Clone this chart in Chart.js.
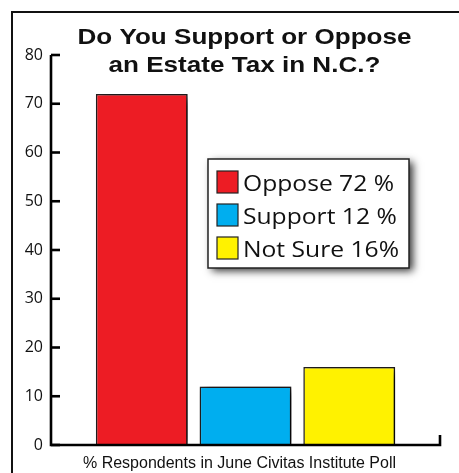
<!DOCTYPE html>
<html><head><meta charset="utf-8">
<script src="https://cdn.jsdelivr.net/npm/chart.js@4/dist/chart.umd.min.js"></script>
<style>
html,body{margin:0;padding:0;background:#fff;overflow:hidden;}
#wrap{position:relative;width:459px;height:473px;overflow:hidden;}
#frame{position:absolute;left:11px;top:11px;width:600px;height:600px;border-top:2.5px solid #111;border-left:2.5px solid #111;pointer-events:none;}
canvas{position:absolute;left:0;top:0;}
</style></head><body>
<div id="wrap"><canvas id="c" width="459" height="473"></canvas><div id="frame"></div></div>
<script>
const titleLines = ['Do You Support or Oppose', 'an Estate Tax in N.C.?'];
const categories = ['% Respondents in June Civitas Institute Poll'];
const seriesNames = ['Oppose 72 %', 'Support 12 %', 'Not Sure 16%'];
const opposeValues = [72];
const supportValues = [12];
const notSureValues = [16];
const seriesColors = ['#ED1C24', '#00AEEF', '#FFF200'];
const yTicks = [0, 10, 20, 30, 40, 50, 60, 70, 80];

const seriesValues = [opposeValues, supportValues, notSureValues];

const decor = {
  id: 'decor',
  beforeDatasetDraw(chart) {
    const ctx = chart.ctx;
    ctx.save();
    ctx.shadowColor = 'rgba(0,0,0,0.9)';
    ctx.shadowBlur = 9;
    ctx.shadowOffsetX = 5;
    ctx.shadowOffsetY = 2;
  },
  afterDatasetDraw(chart) { chart.ctx.restore(); },
  afterDatasetsDraw(chart) {
    const ctx = chart.ctx, ca = chart.chartArea;
    const y = chart.scales.y;
    const y0 = y.getPixelForValue(yTicks[0]);
    const yTop = y.getPixelForValue(yTicks[yTicks.length - 1]);
    ctx.save();
    ctx.strokeStyle = '#000';
    ctx.lineWidth = 2.6;
    ctx.lineJoin = 'miter';
    ctx.beginPath();
    ctx.moveTo(ca.left, yTop);
    ctx.lineTo(ca.left, y0);
    ctx.lineTo(ca.right, y0);
    ctx.lineTo(ca.right, y0 - 10);
    ctx.stroke();
    yTicks.forEach(v => {
      const py = y.getPixelForValue(v);
      ctx.beginPath();
      ctx.moveTo(ca.left, py);
      ctx.lineTo(ca.left + 9, py);
      ctx.stroke();
    });
    ctx.restore();
  },
  afterDraw(chart) {
    const ctx = chart.ctx, ca = chart.chartArea;
    ctx.save();
    ctx.fillStyle = '#111';
    ctx.font = 'bold 22px "Liberation Sans", Arial, sans-serif';
    ctx.textAlign = 'center';
    ctx.textBaseline = 'alphabetic';
    const cx = (ca.left + ca.right) / 2 - 1;
    titleLines.forEach((t, i) => {
      ctx.save();
      ctx.translate(cx, ca.top - 11 + i * 28);
      ctx.scale(1.185, 1);
      ctx.fillText(t, 0, 0);
      ctx.restore();
    });
    ctx.restore();
    const bx = ca.left + 157, by = ca.top + 104, bw = 201, bh = 109;
    ctx.save();
    ctx.shadowColor = 'rgba(0,0,0,0.8)';
    ctx.shadowBlur = 8;
    ctx.shadowOffsetX = 4;
    ctx.shadowOffsetY = 3;
    ctx.fillStyle = '#fff';
    ctx.fillRect(bx, by, bw, bh);
    ctx.restore();
    ctx.save();
    ctx.strokeStyle = '#222';
    ctx.lineWidth = 1.5;
    ctx.strokeRect(bx, by, bw, bh);
    chart.data.datasets.forEach((ds, i) => {
      const sy = by + 12 + i * 33;
      ctx.fillStyle = ds.backgroundColor;
      ctx.fillRect(bx + 9, sy, 21, 22);
      ctx.strokeStyle = '#222';
      ctx.lineWidth = 1.2;
      ctx.strokeRect(bx + 9, sy, 21, 22);
      ctx.fillStyle = '#111';
      ctx.font = '22px "Open Sans", sans-serif';
      ctx.textAlign = 'left';
      ctx.textBaseline = 'alphabetic';
      ctx.save();
      ctx.translate(bx + 35, sy + 20);
      ctx.scale(1.12, 1);
      ctx.fillText(ds.label, 0, 0);
      ctx.restore();
    });
    ctx.restore();
  }
};

new Chart(document.getElementById('c'), {
  type: 'bar',
  data: {
    labels: categories,
    datasets: seriesNames.map((name, i) => ({
      label: name,
      data: seriesValues[i],
      backgroundColor: seriesColors[i],
      borderColor: '#231F20',
      borderWidth: 1.5,
      categoryPercentage: 0.8,
      barPercentage: 0.885
    }))
  },
  options: {
    responsive: false,
    animation: false,
    devicePixelRatio: 1,
    layout: { padding: { top: 55, right: 19, left: 0, bottom: 0 } },
    plugins: { legend: { display: false }, title: { display: false }, tooltip: { enabled: false } },
    scales: {
      x: {
        grid: { display: false, drawTicks: false },
        border: { display: false },
        ticks: {
          color: '#111',
          font: { family: '"Liberation Sans", Arial, sans-serif', size: 16 },
          padding: 9,
          labelOffset: -6,
          maxRotation: 0,
          autoSkip: false
        },
        afterFit(s) { s.height = 28; }
      },
      y: {
        min: yTicks[0],
        max: yTicks[yTicks.length - 1],
        grid: { display: false, drawTicks: false },
        border: { display: false },
        ticks: {
          stepSize: 10,
          color: '#111',
          font: { family: 'Open Sans', size: 16 },
          padding: 8
        },
        afterFit(s) { s.width = 51; }
      }
    }
  },
  plugins: [decor]
});
</script>
</body></html>
